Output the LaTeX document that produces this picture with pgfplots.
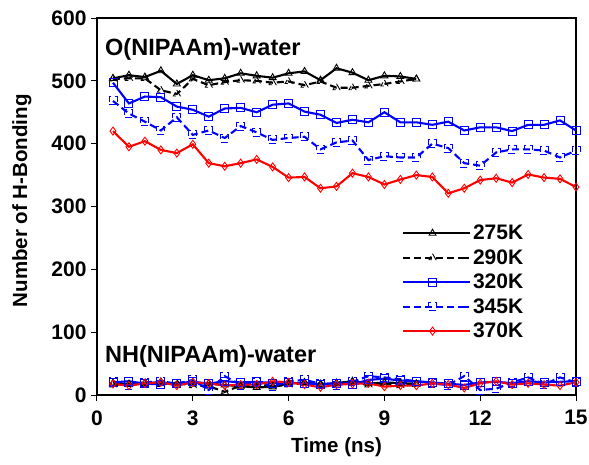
\documentclass[border=0pt]{standalone}
\usepackage{fontspec}
\setmainfont{Liberation Sans}
\usepackage{pgfplots}
\pgfplotsset{compat=1.18}

\definecolor{hbblue}{RGB}{0,0,255}
\definecolor{hbred}{RGB}{255,0,0}

% O(NIPAAm)-water hydrogen bonds, time in ns
\pgfplotstableread{
t    v
0.5  504
1.0  509
1.5  506
2.0  516
2.5  495
3.0  509
3.5  501
4.0  504
4.5  512
5.0  508
5.5  505
6.0  512
6.5  515
7.0  501
7.5  520
8.0  513
8.5  501
9.0  508
9.5  507
10.0 503
}\oTwoSevenFive

\pgfplotstableread{
t    v
0.5  503
1.0  504
1.5  504
2.0  485
2.5  479
3.0  503
3.5  493
4.0  498
4.5  501
5.0  500
5.5  497
6.0  499
6.5  493
7.0  499
7.5  489
8.0  489
8.5  492
9.0  495
9.5  499
10.0 503
}\oTwoNineZero

\pgfplotstableread{
t    v
0.5  497
1.0  464
1.5  475
2.0  474
2.5  459
3.0  454
3.5  443
4.0  456
4.5  457
5.0  450
5.5  462
6.0  464
6.5  451
7.0  446
7.5  433
8.0  438
8.5  434
9.0  450
9.5  434
10.0 434
10.5 430
11.0 435
11.5 421
12.0 426
12.5 426
13.0 420
13.5 430
14.0 430
14.5 437
15.0 421
}\oThreeTwoZero

\pgfplotstableread{
t    v
0.5  468
1.0  448
1.5  435
2.0  421
2.5  442
3.0  414
3.5  421
4.0  409
4.5  428
5.0  418
5.5  406
6.0  409
6.5  411
7.0  391
7.5  402
8.0  405
8.5  374
9.0  380
9.5  378
10.0 378
10.5 400
11.0 393
11.5 369
12.0 365
12.5 386
13.0 391
13.5 391
14.0 389
14.5 378
15.0 389
}\oThreeFourFive

\pgfplotstableread{
t    v
0.5  420
1.0  395
1.5  404
2.0  390
2.5  385
3.0  399
3.5  369
4.0  364
4.5  369
5.0  375
5.5  363
6.0  346
6.5  347
7.0  329
7.5  332
8.0  353
8.5  347
9.0  335
9.5  343
10.0 350
10.5 347
11.0 321
11.5 329
12.0 342
12.5 345
13.0 338
13.5 351
14.0 346
14.5 344
15.0 331
}\oThreeSevenZero

% NH(NIPAAm)-water hydrogen bonds
\pgfplotstableread{
t    v
0.5  19
1.0  17
1.5  18
2.0  21
2.5  16
3.0  20
3.5  18
4.0  16
4.5  14
5.0  12
5.5  13
6.0  18
6.5  20
7.0  17
7.5  19
8.0  22
8.5  18
9.0  20
9.5  19
10.0 18
}\nTwoSevenFive

\pgfplotstableread{
t    v
0.5  16
1.0  18
1.5  20
2.0  17
2.5  19
3.0  15
3.5  14
4.0  5
4.5  15
5.0  17
5.5  14
6.0  16
6.5  19
7.0  18
7.5  17
8.0  20
8.5  16
9.0  19
9.5  15
10.0 17
}\nTwoNineZero

\pgfplotstableread{
t    v
0.5  20
1.0  22
1.5  18
2.0  17
2.5  19
3.0  21
3.5  18
4.0  22
4.5  20
5.0  21
5.5  19
6.0  20
6.5  18
7.0  17
7.5  19
8.0  17
8.5  24
9.0  26
9.5  23
10.0 22
10.5 20
11.0 18
11.5 16
12.0 20
12.5 21
13.0 19
13.5 22
14.0 20
14.5 21
15.0 22
}\nThreeTwoZero

\pgfplotstableread{
t    v
0.5  22
1.0  15
1.5  20
2.0  22
2.5  18
3.0  24
3.5  8
4.0  30
4.5  16
5.0  20
5.5  14
6.0  22
6.5  24
7.0  18
7.5  15
8.0  21
8.5  30
9.0  28
9.5  25
10.0 22
10.5 18
11.0 16
11.5 30
12.0 8
12.5 10
13.0 20
13.5 28
14.0 17
14.5 28
15.0 20
}\nThreeFourFive

\pgfplotstableread{
t    v
0.5  17.6
1.0  14.9
1.5  18.6
2.0  20.2
2.5  14.9
3.0  20.2
3.5  18.6
4.0  14.9
4.5  16.5
5.0  16.5
5.5  21.8
6.0  20.2
6.5  16.5
7.0  12.2
7.5  16.5
8.0  17.6
8.5  18.6
9.0  13.3
9.5  14.9
10.0 14.9
10.5 18.6
11.0 16.5
11.5 11.2
12.0 18.6
12.5 21.8
13.0 16.5
13.5 18.6
14.0 16.5
14.5 14.9
15.0 20.2
}\nThreeSevenZero

\begin{document}
\begin{tikzpicture}[x=1pt,y=1pt]
\path[use as bounding box] (-97,-69) rectangle (492,395);
\begin{axis}[
  at={(0,0)}, anchor=south west,
  scale only axis,
  width=479pt, height=377pt,
  xmin=0, xmax=15, ymin=0, ymax=600,
  xtick={0,3,...,15}, ytick={0,100,...,600},
  tick align=outside, xtick pos=bottom, ytick pos=left,
  major tick length=6pt,
  tick style={line width=1pt, black},
  axis line style={line width=1.8pt},
  /pgf/number format/assume math mode=true,
  tick label style={font=\fontsize{21}{24}\selectfont\bfseries},
  xticklabel style={yshift=-6pt},
  yticklabel style={xshift=-1pt},
  label style={font=\fontsize{20.5}{24}\selectfont\bfseries},
  xlabel={Time (ns)},
  ylabel={Number of H-Bonding},
  xlabel style={at={(axis description cs:0.5,-0.139)}, anchor=center},
  ylabel style={at={(axis description cs:-0.157,0.515)}, anchor=center},
  legend cell align=left,
  legend style={draw=none, fill=none, at={(axis cs:9.45,277)}, anchor=north west,
    font=\fontsize{21}{24}\selectfont\bfseries, row sep=4.3pt,
    nodes={inner sep=2pt}},
  legend image code/.code={
    \draw[mark repeat=2,mark phase=2,#1] plot coordinates {(0pt,0pt) (29.5pt,0pt) (59pt,0pt)};
    \path (59pt,0pt) -- (67pt,0pt);},
  every axis plot/.append style={line width=2.1pt},
  mark size=4pt,
  clip=false,
]
% O(NIPAAm)-water
\addplot[black, mark=triangle, mark options={line width=0.9pt}] table[x=t,y=v] {\oTwoSevenFive};
\addlegendentry{275K}
\addplot[black, dash pattern=on 7pt off 4pt, mark=triangle, mark options={line width=0.9pt}] table[x=t,y=v] {\oTwoNineZero};
\addlegendentry{290K}
\addplot[hbblue, mark=square, mark size=4pt, mark options={line width=0.9pt}] table[x=t,y=v] {\oThreeTwoZero};
\addlegendentry{320K}
\addplot[hbblue, dash pattern=on 7pt off 4pt, mark=square, mark size=4pt, mark options={line width=0.9pt}] table[x=t,y=v] {\oThreeFourFive};
\addlegendentry{345K}
\addplot[hbred, mark=diamond, mark size=4pt, mark options={line width=0.9pt}] table[x=t,y=v] {\oThreeSevenZero};
\addlegendentry{370K}
% NH(NIPAAm)-water
\addplot[black, forget plot, mark=triangle, mark options={line width=0.9pt}] table[x=t,y=v] {\nTwoSevenFive};
\addplot[black, forget plot, dash pattern=on 7pt off 4pt, mark=triangle, mark options={line width=0.9pt}] table[x=t,y=v] {\nTwoNineZero};
\addplot[hbblue, forget plot, mark=square, mark size=4pt, mark options={line width=0.9pt}] table[x=t,y=v] {\nThreeTwoZero};
\addplot[hbblue, forget plot, dash pattern=on 7pt off 4pt, mark=square, mark size=4pt, mark options={line width=0.9pt}] table[x=t,y=v] {\nThreeFourFive};
\addplot[hbred, forget plot, mark=diamond, mark size=4pt, mark options={line width=0.9pt}] table[x=t,y=v] {\nThreeSevenZero};
\node[anchor=base west, font=\fontsize{23.5}{26}\selectfont\bfseries, inner sep=0pt] at (axis cs:0.25,541) {O(NIPAAm)-water};
\node[anchor=base west, font=\fontsize{23.5}{26}\selectfont\bfseries, inner sep=0pt] at (axis cs:0.25,52) {NH(NIPAAm)-water};
\end{axis}
\end{tikzpicture}
\end{document}
